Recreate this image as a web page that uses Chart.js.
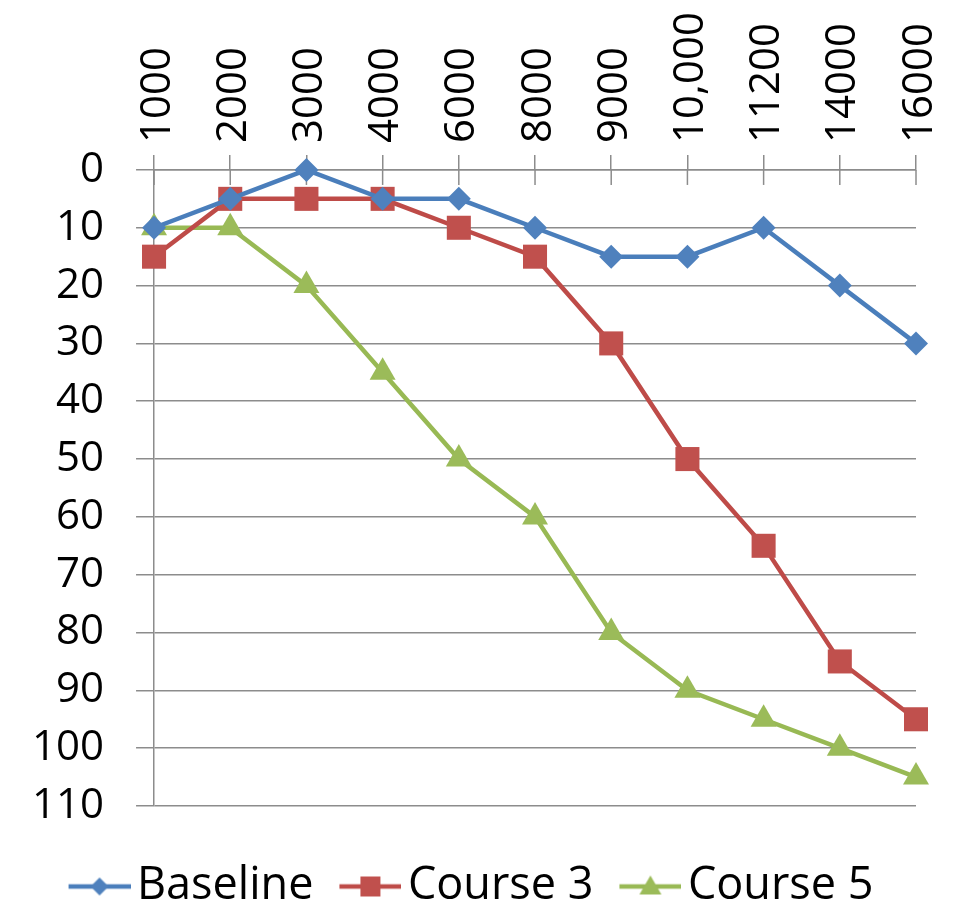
<!DOCTYPE html>
<html lang="en">
<head>
    <meta charset="UTF-8">
    <title>Audiogram</title>
    <script src="https://cdn.jsdelivr.net/npm/chart.js"></script>
    <style>
        body { margin: 0; background: #fff; }
        #wrap { width: 954px; height: 903px; }
    </style>
</head>
<body>
    <div id="wrap"><canvas id="lineChart"></canvas></div>

    <script>
        const frequencies = ['1000', '2000', '3000', '4000', '6000', '8000', '9000', '10,000', '11200', '14000', '16000'];
        const baseline = [10, 5, 0, 5, 5, 10, 15, 15, 10, 20, 30];
        const course3 = [15, 5, 5, 5, 10, 15, 30, 50, 65, 85, 95];
        const course5 = [10, 10, 20, 35, 50, 60, 80, 90, 95, 100, 105];

        const gridColor = '#8c8c8c';
        const fontFamily = "'Open Sans', sans-serif";

        // legend symbol: short line with the marker in the middle, drawn at the right end of the image
        function legendSymbol(lineColor, fillColor, shape) {
            const c = document.createElement('canvas');
            c.width = 104;
            c.height = 30;
            const ctx = c.getContext('2d');
            const cx = 73;
            ctx.strokeStyle = lineColor;
            ctx.lineWidth = 4.5;
            ctx.beginPath();
            ctx.moveTo(42, 15);
            ctx.lineTo(104, 15);
            ctx.stroke();
            ctx.fillStyle = fillColor;
            ctx.beginPath();
            if (shape === 'diamond') {
                ctx.moveTo(cx, 6); ctx.lineTo(cx + 9, 15); ctx.lineTo(cx, 24); ctx.lineTo(cx - 9, 15);
            } else if (shape === 'square') {
                ctx.rect(cx - 10, 5, 20, 20);
            } else {
                ctx.moveTo(cx, 4); ctx.lineTo(cx + 11, 23); ctx.lineTo(cx - 11, 23);
            }
            ctx.closePath();
            ctx.fill();
            return c;
        }

        const innerTicks = {
            id: 'innerTicks',
            beforeDatasetsDraw(chart) {
                const { ctx, chartArea, scales } = chart;
                ctx.save();
                ctx.strokeStyle = gridColor;
                ctx.lineWidth = 1.5;
                scales.x.ticks.forEach((t, i) => {
                    const px = scales.x.getPixelForTick(i);
                    ctx.beginPath();
                    ctx.moveTo(px, chartArea.top);
                    ctx.lineTo(px, chartArea.top + 15);
                    ctx.stroke();
                });
                ctx.restore();
            }
        };

        const series = [
            { label: 'Baseline', data: baseline, line: '#4a7ebb', fill: '#4f81bd', style: 'rectRot', radius: 12, shape: 'diamond' },
            { label: 'Course 3', data: course3, line: '#be4b48', fill: '#c0504d', style: 'rect', radius: 17, shape: 'square' },
            { label: 'Course 5', data: course5, line: '#98b954', fill: '#9bbb59', style: 'triangle', radius: 15, shape: 'triangle' }
        ];

        new Chart(document.getElementById('lineChart'), {
            type: 'line',
            data: {
                labels: frequencies,
                datasets: series.map(s => ({
                    label: s.label,
                    data: s.data,
                    borderColor: s.line,
                    borderWidth: 4.5,
                    backgroundColor: s.fill,
                    pointStyle: s.style,
                    pointRadius: s.radius,
                    pointHoverRadius: s.radius,
                    pointBackgroundColor: s.fill,
                    pointBorderWidth: 0,
                    tension: 0,
                    clip: false
                }))
            },
            options: {
                responsive: true,
                maintainAspectRatio: false,
                animation: false,
                layout: { padding: { left: 0, right: 38, top: 0, bottom: -16 } },
                scales: {
                    x: {
                        position: 'top',
                        offset: false,
                        grid: { drawOnChartArea: false, color: gridColor, lineWidth: 1.5, tickLength: 15 },
                        border: { display: true, color: gridColor, width: 1.5 },
                        ticks: {
                            color: '#000',
                            minRotation: 90,
                            maxRotation: 90,
                            padding: 12,
                            labelOffset: 54,
                            font: { family: fontFamily, size: 42 }
                        }
                    },
                    y: {
                        reverse: true,
                        min: 0,
                        max: 110,
                        grid: { color: gridColor, lineWidth: 1.5, tickLength: 18 },
                        border: { display: true, color: gridColor, width: 1.5 },
                        ticks: {
                            stepSize: 10,
                            color: '#000',
                            padding: 32,
                            font: { family: fontFamily, size: 42 }
                        }
                    }
                },
                plugins: {
                    tooltip: { enabled: false },
                    legend: {
                        position: 'bottom',
                        title: { display: true, text: ' ', font: { size: 10 }, padding: { top: 46, bottom: 0 } },
                        labels: {
                            usePointStyle: true,
                            pointStyleWidth: 72,
                            padding: 0,
                            color: '#000',
                            font: { family: fontFamily, size: 45 },
                            generateLabels: chart => series.map((s, i) => ({
                                text: s.label,
                                pointStyle: legendSymbol(s.line, s.fill, s.shape),
                                datasetIndex: i,
                                fillStyle: s.fill,
                                strokeStyle: s.line,
                                lineWidth: 0,
                                hidden: false,
                                fontColor: '#000'
                            }))
                        }
                    }
                }
            },
            plugins: [innerTicks]
        });
    </script>
</body>
</html>
